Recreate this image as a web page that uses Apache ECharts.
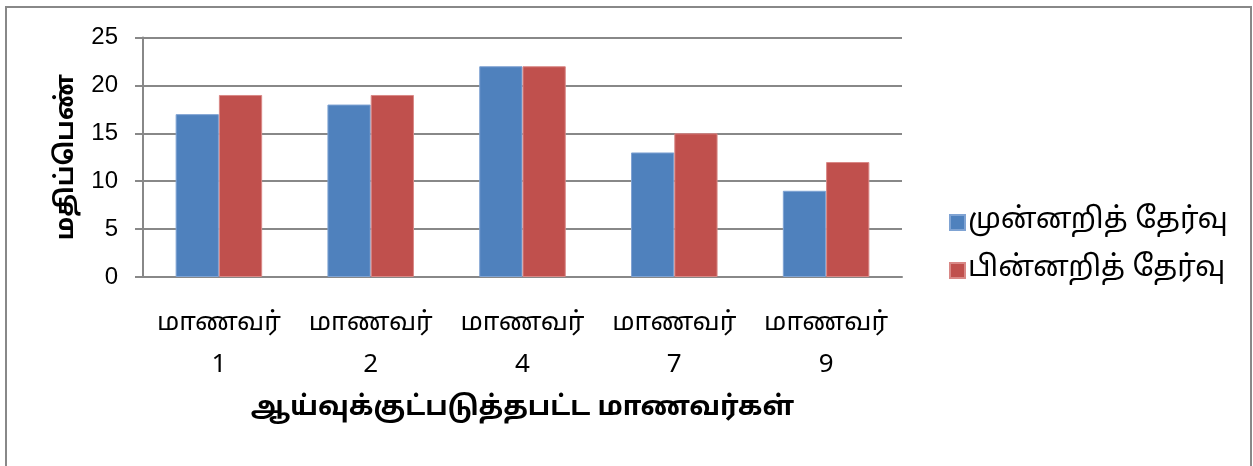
<!DOCTYPE html>
<html><head><meta charset="utf-8">
<script src="https://cdn.jsdelivr.net/npm/echarts@6/dist/echarts.min.js"></script>
<style>html,body{margin:0;padding:0;background:#fff}#c{width:1253px;height:466px}</style>
</head><body><div id="c"></div>
<script>
const categories = ['மாணவர்\n1','மாணவர்\n2','மாணவர்\n4','மாணவர்\n7','மாணவர்\n9'];
const preTest = [17, 18, 22, 13, 9];
const postTest = [19, 19, 22, 15, 12];
const seriesNames = ['முன்னறித் தேர்வு','பின்னறித் தேர்வு'];
const yTicks = {min:0, max:25, interval:5};
const xTitle = 'ஆய்வுக்குட்படுத்தபட்ட மாணவர்கள்';
const yTitle = 'மதிப்பெண்';

const chart = echarts.init(document.getElementById('c'), null, {renderer:'canvas'});
const tamilFont = '"Noto Sans Tamil","Lohit Tamil","Latha","Liberation Sans Narrow","Liberation Sans",sans-serif';
chart.setOption({
  animation:false,
  backgroundColor:'#fff',
  graphic:[{type:'rect', shape:{x:6,y:7,width:1245,height:470}, style:{fill:'none',stroke:'#888',lineWidth:2}, silent:true, z:-1}],
  grid:{left:143, right:351, top:37.5, bottom:189},
  legend:{orient:'vertical', left:944, top:203, itemWidth:15, itemHeight:15, itemGap:19, icon:'rect',
    textStyle:{fontSize:29, color:'#000', fontFamily:tamilFont, padding:[0,0,0,-2]}, data:seriesNames},
  xAxis:{type:'category', data:categories,
    axisLine:{show:true, lineStyle:{color:'#888', width:2}},
    axisTick:{show:false},
    axisLabel:{color:'#000', fontSize:26, lineHeight:42, margin:27, fontFamily:tamilFont, interval:0},
    name:xTitle, nameLocation:'middle', nameGap:119,
    nameTextStyle:{fontSize:27, fontWeight:'bold', color:'#000', fontFamily:tamilFont}},
  yAxis:{type:'value', min:yTicks.min, max:yTicks.max, interval:yTicks.interval,
    axisLine:{show:true, lineStyle:{color:'#888', width:2}},
    axisTick:{show:true, length:8, lineStyle:{color:'#888', width:2}},
    splitLine:{lineStyle:{color:'#888', width:2}},
    axisLabel:{color:'#000', fontSize:24, margin:25, fontFamily:'"Liberation Sans",sans-serif'},
    name:yTitle, nameLocation:'middle', nameGap:60, nameRotate:90,
    nameTextStyle:{fontSize:25, fontWeight:'bold', color:'#000', fontFamily:tamilFont}},
  series:[
    {name:seriesNames[0], type:'bar', data:preTest, barGap:'0%', barCategoryGap:'43%',
     itemStyle:{color:'#4F81BD', borderColor:'#7fa3d3', borderWidth:1}},
    {name:seriesNames[1], type:'bar', data:postTest, barGap:'0%', barCategoryGap:'43%',
     itemStyle:{color:'#C0504D', borderColor:'#d98886', borderWidth:1}}
  ]
});
</script></body></html>
